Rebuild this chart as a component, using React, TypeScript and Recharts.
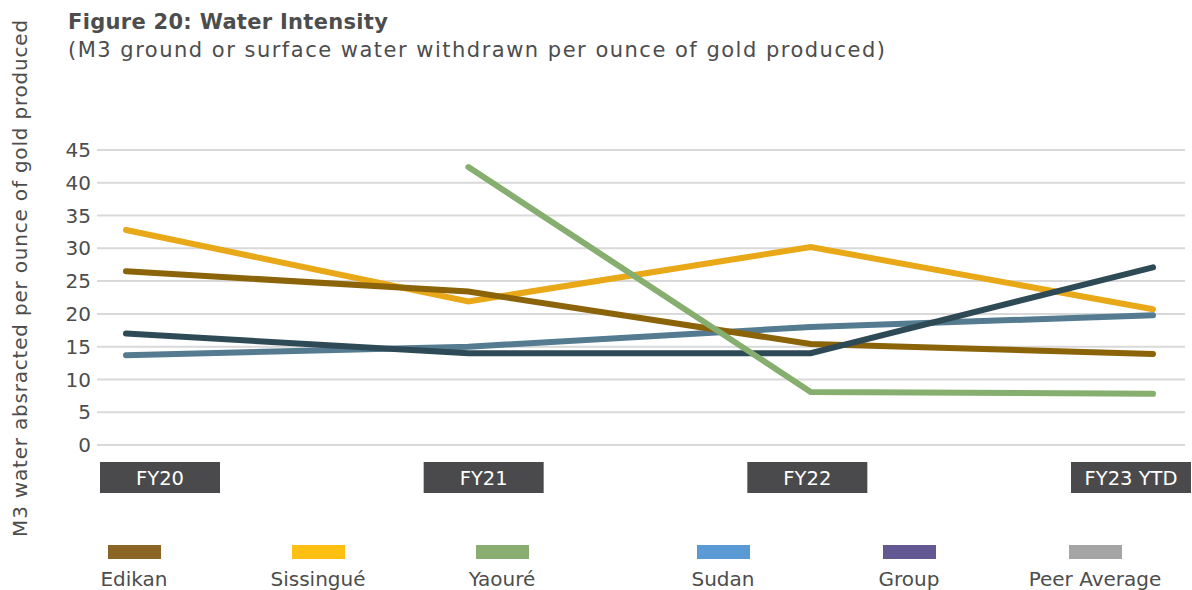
import React from 'react';
import { LineChart, Line, XAxis, YAxis, CartesianGrid } from 'recharts';

const categories = ['FY20', 'FY21', 'FY22', 'FY23 YTD'];
const edikan = [26.5, 23.4, 15.4, 13.9];
const sissingue = [32.8, 21.9, 30.2, 20.7];
const yaoure: (number | null)[] = [null, 42.4, 8.1, 7.8];
const sudan = [13.7, 15.0, 18.0, 19.8];
const group = [17.0, 14.0, 14.0, 27.1];
const yTicks = [0, 5, 10, 15, 20, 25, 30, 35, 40, 45];

const legendLeft = [
  { name: 'Edikan', color: '#8B6526' },
  { name: 'Sissingué', color: '#FDBF12' },
  { name: 'Yaouré', color: '#8AAE72' },
];
const legendRight = [
  { name: 'Sudan', color: '#5B9BD5' },
  { name: 'Group', color: '#635891' },
  { name: 'Peer Average', color: '#A5A5A5' },
];

const data = categories.map((c, i) => ({
  cat: c,
  edikan: edikan[i],
  sissingue: sissingue[i],
  yaoure: yaoure[i],
  sudan: sudan[i],
  group: group[i],
}));

const FONT = '"DejaVu Sans", sans-serif';
const TEXT = '#4d4d4d';

const BoxTick = (props: any) => {
  const { x, y, payload } = props;
  return (
    <g>
      <rect x={x - 60} y={y + 17} width={120} height={31} fill="#4a4a4c" />
      <text
        x={x}
        y={y + 33}
        textAnchor="middle"
        dominantBaseline="central"
        fill="#ffffff"
        fontSize={19.5}
        fontFamily={FONT}
      >
        {payload.value}
      </text>
    </g>
  );
};

const LegendGroup = ({ items, left, colW }: { items: { name: string; color: string }[]; left: number; colW: number }) => (
  <div style={{ position: 'absolute', left, top: 545, display: 'flex' }}>
    {items.map((it) => (
      <div key={it.name} style={{ width: colW, display: 'flex', flexDirection: 'column', alignItems: 'center' }}>
        <div style={{ width: 53, height: 14, background: it.color }} />
        <div style={{ marginTop: 9, fontSize: 20, lineHeight: '22px', color: TEXT, fontFamily: FONT, whiteSpace: 'nowrap' }}>
          {it.name}
        </div>
      </div>
    ))}
  </div>
);

export default function App() {
  return (
    <div style={{ position: 'absolute', left: 0, top: 0, width: 1192, height: 590, background: '#fff', overflow: 'hidden' }}>
      <div style={{ position: 'absolute', left: 68, top: 10, fontFamily: FONT, fontWeight: 'bold', fontSize: 21, letterSpacing: 0.3, lineHeight: '24px', color: TEXT, whiteSpace: 'nowrap' }}>
        Figure 20: Water Intensity
      </div>
      <div style={{ position: 'absolute', left: 68, top: 38, fontFamily: FONT, fontSize: 21, letterSpacing: 1.5, lineHeight: '24px', color: TEXT, whiteSpace: 'nowrap' }}>
        (M3 ground or surface water withdrawn per ounce of gold produced)
      </div>
      <svg style={{ position: 'absolute', left: 0, top: 0 }} width={60} height={590}>
        <text
          x={27}
          y={278}
          transform="rotate(-90, 27, 278)"
          textAnchor="middle"
          fontSize={20}
          letterSpacing={0.8}
          fontFamily={FONT}
          fill={TEXT}
        >
          M3 water absracted per ounce of gold produced
        </text>
      </svg>
      <div style={{ position: 'absolute', left: 0, top: 0 }}>
        <LineChart width={1192} height={590} data={data} margin={{ top: 150, right: 7, bottom: 0, left: 0 }}>
          <CartesianGrid vertical={false} stroke="#d9d9d9" strokeWidth={2} horizontalValues={yTicks} />
          <XAxis dataKey="cat" xAxisId="main" hide padding={{ left: 29, right: 32 }} />
          <XAxis
            dataKey="cat"
            xAxisId="box"
            axisLine={false}
            tickLine={false}
            tickSize={0}
            tickMargin={0}
            height={145}
            interval={0}
            padding={{ left: 63, right: 54 }}
            tick={<BoxTick />}
          />
          <YAxis
            width={97}
            domain={[0, 45]}
            ticks={yTicks}
            axisLine={false}
            tickLine={false}
            tickSize={0}
            tickMargin={6}
            interval={0}
            tick={{ fill: TEXT, fontSize: 20, fontFamily: FONT }}
          />
          <Line xAxisId="main" dataKey="sissingue" stroke="#E8A817" strokeWidth={6} strokeLinecap="round" dot={false} activeDot={false} isAnimationActive={false} />
          <Line xAxisId="main" dataKey="sudan" stroke="#547B8F" strokeWidth={6} strokeLinecap="round" dot={false} activeDot={false} isAnimationActive={false} />
          <Line xAxisId="main" dataKey="edikan" stroke="#8B6309" strokeWidth={6} strokeLinecap="round" dot={false} activeDot={false} isAnimationActive={false} />
          <Line xAxisId="main" dataKey="group" stroke="#2F4A57" strokeWidth={6} strokeLinecap="round" dot={false} activeDot={false} isAnimationActive={false} />
          <Line xAxisId="main" dataKey="yaoure" stroke="#86AE6F" strokeWidth={6} strokeLinecap="round" dot={false} activeDot={false} isAnimationActive={false} />
        </LineChart>
      </div>
      <LegendGroup items={legendLeft} left={42} colW={184} />
      <LegendGroup items={legendRight} left={630} colW={186} />
    </div>
  );
}
